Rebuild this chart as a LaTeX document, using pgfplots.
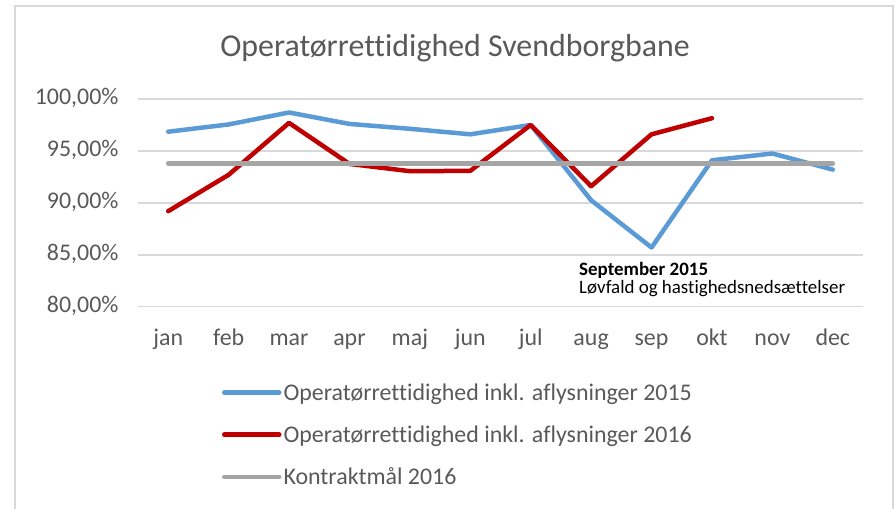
\documentclass[border=0pt]{standalone}
\usepackage{pgfplots}
\pgfplotsset{compat=1.18}
\usepackage{fontspec}
\setmainfont{Carlito}[Ligatures=NoCommon]
\definecolor{cA}{HTML}{5B9BD5}
\definecolor{cB}{HTML}{C00000}
\definecolor{cG}{HTML}{A5A5A5}
\definecolor{txt}{HTML}{595959}
\definecolor{gridc}{HTML}{D9D9D9}
\begin{document}
\begin{tikzpicture}
\path[use as bounding box] (0bp,0bp) rectangle (895bp,509bp);
\draw[gridc, line width=2bp] (15bp,-5bp) -- (15bp,503bp) -- (893bp,503bp) -- (893bp,-5bp);
\node[text=txt, font=\fontsize{32}{38}\selectfont] at (455bp,461bp) {Operatørrettidighed Svendborgbane};
\begin{axis}[
  at={(138bp,202.3bp)}, anchor=south west,
  scale only axis, width=725bp, height=207.7bp,
  xmin=-0.5, xmax=11.5, ymin=80, ymax=100,
  xtick={0,...,11},
  xticklabels={jan,feb,mar,apr,maj,jun,jul,aug,sep,okt,nov,dec},
  ytick={80,85,90,95,100},
  yticklabels={80{,}00\%,85{,}00\%,90{,}00\%,95{,}00\%,100{,}00\%},
  ymajorgrids, major grid style={gridc, line width=1.5bp},
  axis line style={draw=none}, tick style={draw=none},
  tick label style={text=txt, font=\fontsize{24}{28}\selectfont},
  typeset ticklabels with strut,
  xticklabel style={yshift=-16bp},
  yticklabel style={xshift=-16bp},
  clip=false,
  legend style={at={(0.1115,-0.35)}, anchor=north west, draw=none, fill=none,
    font=\fontsize{24}{28}\selectfont, text=txt, row sep=20bp,
    legend cell align=left},
  legend image code/.code={\draw[#1, line width=4.5bp] (0bp,0bp) -- (55bp,0bp);},
]
\addplot[cA, line width=4.5bp, line join=round, line cap=round] coordinates {
(0,96.85) (1,97.55) (2,98.7) (3,97.6) (4,97.13) (5,96.6) (6,97.5) (7,90.25) (8,85.7) (9,94.1) (10,94.75) (11,93.2)};
\addlegendentry{Operatørrettidighed inkl. aflysninger 2015}
\addplot[cB, line width=4.5bp, line join=round, line cap=round] coordinates {
(0,89.2) (1,92.7) (2,97.7) (3,93.75) (4,93.05) (5,93.08) (6,97.5) (7,91.6) (8,96.6) (9,98.15)};
\addlegendentry{Operatørrettidighed inkl. aflysninger 2016}
\addplot[cG, line width=4.5bp, line cap=round] coordinates {
(0,93.8) (1,93.8) (2,93.8) (3,93.8) (4,93.8) (5,93.8) (6,93.8) (7,93.8) (8,93.8) (9,93.8) (10,93.8) (11,93.8)};
\addlegendentry{Kontraktmål 2016}
\node[anchor=base west, inner sep=0pt, font=\fontsize{19}{22}\selectfont\bfseries] at (axis cs:6.8,83.05) {September 2015};
\node[anchor=base west, inner sep=0pt, font=\fontsize{19}{22}\selectfont] at (axis cs:6.8,81.3) {Løvfald og hastighedsnedsættelser};
\end{axis}
\end{tikzpicture}
\end{document}
